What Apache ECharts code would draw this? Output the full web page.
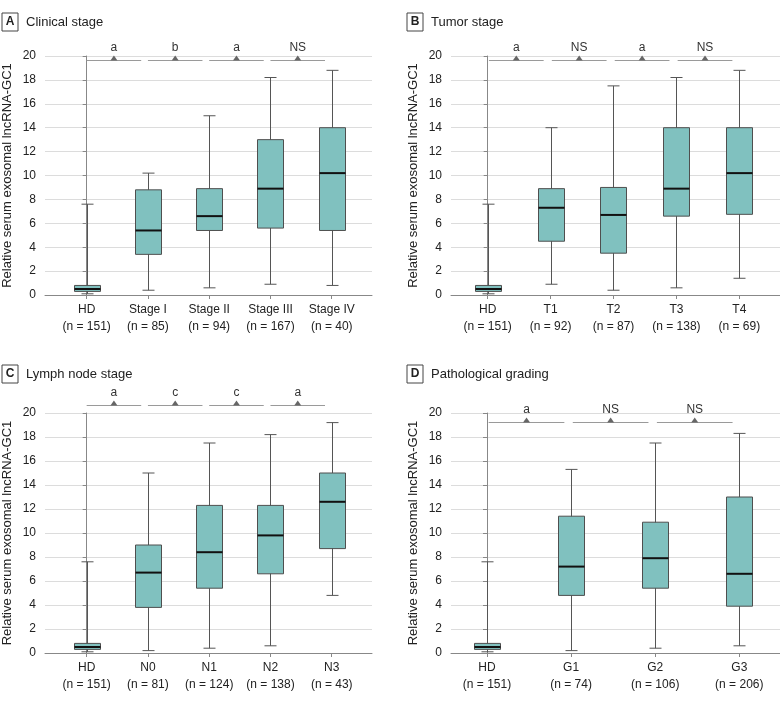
<!DOCTYPE html>
<html><head><meta charset="utf-8">
<script src="https://cdn.jsdelivr.net/npm/echarts@6/dist/echarts.min.js"></script>
<style>html,body{margin:0;padding:0;background:#fff}#c{width:780px;height:701px}</style>
</head><body><div id="c"></div>
<script>
// ---------- DATA ----------
// Panel A: Clinical stage
const catsA = ['HD', 'Stage I', 'Stage II', 'Stage III', 'Stage IV'];
const nA = [151, 85, 94, 167, 40];
const minA = [0.1, 0.4, 0.6, 0.9, 0.8];
const q1A = [0.3, 3.4, 5.4, 5.6, 5.4];
const medA = [0.5, 5.4, 6.6, 8.9, 10.2];
const q3A = [0.8, 8.8, 8.9, 13.0, 14.0];
const maxA = [7.6, 10.2, 15.0, 18.2, 18.8];
const sigA = ['a', 'b', 'a', 'NS'];
// Panel B: Tumor stage
const catsB = ['HD', 'T1', 'T2', 'T3', 'T4'];
const nB = [151, 92, 87, 138, 69];
const minB = [0.1, 0.9, 0.4, 0.6, 1.4];
const q1B = [0.3, 4.5, 3.5, 6.6, 6.75];
const medB = [0.5, 7.3, 6.7, 8.9, 10.2];
const q3B = [0.8, 8.9, 9.0, 14.0, 14.0];
const maxB = [7.6, 14.0, 17.5, 18.2, 18.8];
const sigB = ['a', 'NS', 'a', 'NS'];
// Panel C: Lymph node stage
const catsC = ['HD', 'N0', 'N1', 'N2', 'N3'];
const nC = [151, 81, 124, 138, 43];
const minC = [0.1, 0.2, 0.4, 0.6, 4.8];
const q1C = [0.3, 3.8, 5.4, 6.6, 8.7];
const medC = [0.5, 6.7, 8.4, 9.8, 12.6];
const q3C = [0.8, 9.0, 12.3, 12.3, 15.0];
const maxC = [7.6, 15.0, 17.5, 18.2, 19.2];
const sigC = ['a', 'c', 'c', 'a'];
// Panel D: Pathological grading
const catsD = ['HD', 'G1', 'G2', 'G3'];
const nD = [151, 74, 106, 206];
const minD = [0.1, 0.2, 0.4, 0.6];
const q1D = [0.3, 4.8, 5.4, 3.9];
const medD = [0.5, 7.2, 7.9, 6.6];
const q3D = [0.8, 11.4, 10.9, 13.0];
const maxD = [7.6, 15.3, 17.5, 18.3];
const sigD = ['a', 'NS', 'NS'];
const yTitle = 'Relative serum exosomal lncRNA-GC1';

// ---------- LAYOUT ----------
const FONT = '"Liberation Sans", Arial, sans-serif';
const panels = [
  { letter: 'A', title: 'Clinical stage', cats: catsA, n: nA, mn: minA, q1: q1A, md: medA, q3: q3A, mx: maxA, sig: sigA,
    grid: { left: 45, right: 408, top: 56, bottom: 406 }, xMin: -0.68, xMax: 4.657, sigY: 19.64, s0: 0.0, s1: 0.89, tl: { left: 2, top: 13 } },
  { letter: 'B', title: 'Tumor stage', cats: catsB, n: nB, mn: minB, q1: q1B, md: medB, q3: q3B, mx: maxB, sig: sigB,
    grid: { left: 451, right: 0, top: 56, bottom: 406 }, xMin: -0.583, xMax: 4.647, sigY: 19.64, s0: 0.02, s1: 0.89, tl: { left: 407, top: 13 } },
  { letter: 'C', title: 'Lymph node stage', cats: catsC, n: nC, mn: minC, q1: q1C, md: medC, q3: q3C, mx: maxC, sig: sigC,
    grid: { left: 45, right: 408, top: 413, bottom: 48 }, xMin: -0.68, xMax: 4.657, sigY: 20.64, s0: 0.0, s1: 0.89, tl: { left: 2, top: 365 } },
  { letter: 'D', title: 'Pathological grading', cats: catsD, n: nD, mn: minD, q1: q1D, md: medD, q3: q3D, mx: maxD, sig: sigD,
    grid: { left: 451, right: 0, top: 413, bottom: 48 }, xMin: -0.428, xMax: 3.484, sigY: 19.25, s0: 0.02, s1: 0.92, tl: { left: 407, top: 365 } }
];

function boxRender(params, api) {
  const x = api.value(0);
  const pMin = api.coord([x, api.value(1)]);
  const pQ1 = api.coord([x, api.value(2)]);
  const pMed = api.coord([x, api.value(3)]);
  const pQ3 = api.coord([x, api.value(4)]);
  const pMax = api.coord([x, api.value(5)]);
  const cx = Math.round(pMin[0]) + 0.5, hw = 13, cw = 6;
  const ls = { stroke: '#555', lineWidth: 1 };
  return { type: 'group', children: [
    { type: 'line', shape: { x1: cx, y1: pMin[1], x2: cx, y2: pMax[1] }, style: ls },
    { type: 'line', shape: { x1: cx - cw, y1: pMin[1], x2: cx + cw, y2: pMin[1] }, style: ls },
    { type: 'line', shape: { x1: cx - cw, y1: pMax[1], x2: cx + cw, y2: pMax[1] }, style: ls },
    { type: 'rect', shape: { x: cx - hw, y: pQ3[1], width: 2 * hw, height: pQ1[1] - pQ3[1] },
      style: { fill: '#80c1bf', stroke: '#4f4f4f', lineWidth: 1 } },
    { type: 'line', shape: { x1: cx - hw, y1: pMed[1], x2: cx + hw, y2: pMed[1] }, style: { stroke: '#111', lineWidth: 2 } }
  ] };
}

function sigRender(sig) {
  return function (params, api) {
    const p0 = api.coord([api.value(0), api.value(2)]);
    const p1 = api.coord([api.value(1), api.value(2)]);
    const mx = (p0[0] + p1[0]) / 2, y = Math.round(p0[1]) + 0.5;
    return { type: 'group', children: [
      { type: 'line', shape: { x1: p0[0], y1: y, x2: p1[0], y2: y }, style: { stroke: '#9a9a9a', lineWidth: 1 } },
      { type: 'polygon', shape: { points: [[mx - 3.5, y], [mx + 3.5, y], [mx, y - 5]] }, style: { fill: '#666' } },
      { type: 'text', x: mx, y: y - 7, style: { text: sig[params.dataIndex], fill: '#333', font: '12px ' + FONT, align: 'center', verticalAlign: 'bottom' } }
    ] };
  };
}

const option = { animation: false, backgroundColor: '#fff', title: [], grid: [], xAxis: [], yAxis: [], series: [] };
panels.forEach((p, k) => {
  const idx = p.cats.map((_, i) => i);
  option.title.push({
    left: p.tl.left, top: p.tl.top, padding: 0,
    text: '{b|' + p.letter + '}{t|' + p.title + '}',
    textStyle: { fontWeight: 'normal', rich: {
      b: { fontFamily: FONT, fontSize: 12, fontWeight: 'bold', color: '#222', borderColor: '#444', borderWidth: 1,
           width: 16, height: 18, lineHeight: 18, align: 'center', verticalAlign: 'middle' },
      t: { fontFamily: FONT, fontSize: 13, fontWeight: 'normal', color: '#222', padding: [0, 0, 0, 8], lineHeight: 18, verticalAlign: 'middle' }
    } }
  });
  option.grid.push(Object.assign({ containLabel: false }, p.grid));
  option.xAxis.push({
    type: 'value', gridIndex: k, min: p.xMin, max: p.xMax,
    axisLine: { show: true, onZero: false, lineStyle: { color: '#888' } },
    axisTick: { show: true, customValues: idx, length: 4, lineStyle: { color: '#888' } },
    axisLabel: { customValues: idx, formatter: v => p.cats[v] + '\n(n = ' + p.n[v] + ')',
      fontFamily: FONT, fontSize: 12, lineHeight: 17, color: '#222', margin: 6 },
    splitLine: { show: false }
  });
  option.yAxis.push({
    type: 'value', gridIndex: k, min: 0, max: 20, interval: 2,
    name: yTitle, nameLocation: 'middle', nameGap: 31,
    nameTextStyle: { fontFamily: FONT, fontSize: 13, color: '#222' },
    axisLine: { show: true, lineStyle: { color: '#888' } },
    axisTick: { show: true, length: 4, lineStyle: { color: '#888' } },
    axisLabel: { fontFamily: FONT, fontSize: 12, color: '#222', margin: 9 },
    splitLine: { show: true, lineStyle: { color: '#dcdcdc' } }
  });
  option.series.push({
    type: 'custom', xAxisIndex: k, yAxisIndex: k, silent: true, clip: false,
    encode: { x: 0, y: [1, 2, 3, 4, 5] },
    renderItem: boxRender,
    data: idx.map(i => [i, p.mn[i], p.q1[i], p.md[i], p.q3[i], p.mx[i]])
  });
  option.series.push({
    type: 'custom', xAxisIndex: k, yAxisIndex: k, silent: true, clip: false,
    encode: { x: [0, 1], y: 2 },
    renderItem: sigRender(p.sig),
    data: p.sig.map((_, i) => [i + p.s0, i + p.s1, p.sigY])
  });
});

const chart = echarts.init(document.getElementById('c'), null, { renderer: 'canvas' });
chart.setOption(option);
</script>
</body></html>
